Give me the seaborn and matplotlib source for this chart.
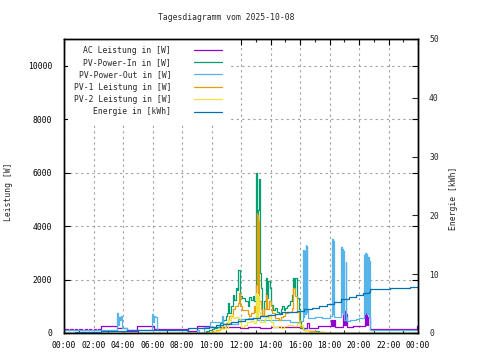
import matplotlib
matplotlib.use("Agg")
import matplotlib.pyplot as plt
import seaborn as sns

# time in hours of the day, values in W (energy in kWh)
t_ac = [0.0, 0.25, 0.4, 0.6, 0.75, 0.9, 1.05, 1.2, 1.4, 1.55, 1.7, 1.85, 2.0, 2.15, 2.3,
        2.53, 3.6, 4.3, 4.95, 6.08, 8.4, 9.0, 9.8, 11.9, 12.5, 13.3, 14.0, 15.5, 16.0,
        16.45, 16.6, 17.2, 18.1, 18.15, 18.2, 18.25, 18.3, 18.4, 18.9, 18.95, 19.0, 19.05,
        19.1, 19.2, 19.6, 20.4, 20.45, 20.5, 20.55, 20.6, 20.75, 23.9, 24.0]
ac = [140, 110, 140, 110, 140, 110, 140, 110, 140, 110, 140, 110, 140, 110, 140,
      260, 175, 90, 260, 140, 60, 260, 230, 190, 210, 200, 230, 210, 190,
      380, 200, 250, 500, 250, 500, 250, 500, 230, 800, 300, 810, 300,
      700, 230, 260, 750, 300, 700, 300, 600, 140, 250, 250]

t_in = [0.0, 9.5, 9.6, 9.8, 10.0, 10.2, 10.4, 10.6, 10.78, 10.95, 11.05, 11.12, 11.2, 11.3,
        11.44, 11.55, 11.65, 11.75, 11.82, 11.9, 11.96, 12.1, 12.3, 12.45, 12.55, 12.65,
        12.78, 12.9, 13.0, 13.05, 13.1, 13.15, 13.2, 13.27, 13.33, 13.44, 13.55, 13.67,
        13.75, 13.85, 13.95, 14.05, 14.2, 14.33, 14.45, 14.55, 14.7, 14.8, 14.9, 15.0,
        15.1, 15.2, 15.35, 15.44, 15.5, 15.6, 15.67, 15.78, 15.9, 16.0, 16.1, 16.3, 16.6,
        17.0, 17.3, 17.6, 24.0]
pv_in = [0, 0, 60, 120, 150, 180, 240, 380, 490, 620, 740, 1120, 760, 1000,
         1440, 1250, 1690, 1600, 2340, 1700, 1400, 1310, 1180, 1000, 1350, 1250,
         1370, 1200, 2750, 5990, 2800, 4600, 5750, 2250, 1690, 620, 1200, 2060,
         1300, 1940, 1700, 1060, 870, 950, 800, 740, 900, 1000, 850, 930,
         1000, 1060, 1200, 1440, 2060, 1700, 2060, 1310, 900, 430, 180, 120, 80,
         60, 30, 0, 0]

t_out = [0.0, 3.6, 3.65, 3.7, 3.8, 3.85, 3.93, 4.3, 5.97, 6.02, 6.07, 6.15, 6.3, 8.35,
         9.05, 9.12, 9.5, 9.9, 10.6, 10.7, 10.8, 10.95, 11.3, 11.8, 12.5, 13.1, 13.3,
         14.0, 14.6, 15.3, 16.0, 16.22, 16.26, 16.3, 16.34, 16.38, 16.42, 16.46, 16.5,
         16.54, 17.0, 17.5, 18.0, 18.17, 18.21, 18.25, 18.3, 18.78, 18.82, 18.86, 18.9,
         18.94, 18.98, 19.1, 19.15, 19.2, 19.4, 19.8, 20.0, 20.36, 20.4, 20.44, 20.48,
         20.52, 20.56, 20.6, 20.65, 20.7, 20.75, 24.0]
pv_out = [110, 740, 300, 600, 480, 640, 180, 110, 710, 400, 650, 600, 110, 0,
          120, 0, 240, 430, 400, 620, 350, 380, 320, 520, 550, 500, 480,
          470, 500, 430, 450, 3100, 600, 3050, 700, 3300, 800, 3250, 900,
          550, 600, 550, 620, 3500, 700, 3450, 600, 3200, 800, 3150, 700,
          3050, 500, 2650, 600, 450, 500, 520, 550, 2900, 700, 3000, 800,
          2950, 700, 2850, 600, 2700, 120, 120]

t_pv1 = [0.0, 9.5, 9.7, 10.0, 10.3, 10.6, 10.78, 10.95, 11.1, 11.2, 11.44, 11.6, 11.78,
         11.85, 11.96, 12.1, 12.3, 12.45, 12.55, 12.7, 12.85, 12.95, 13.03, 13.06, 13.09,
         13.12, 13.15, 13.18, 13.21, 13.25, 13.35, 13.44, 13.55, 13.67, 13.75, 13.9, 14.0,
         14.1, 14.3, 14.55, 14.7, 14.85, 15.0, 15.2, 15.44, 15.55, 15.65, 15.78, 15.9,
         16.0, 16.2, 16.6, 17.0, 17.6, 24.0]
pv1 = [0, 0, 40, 80, 120, 180, 200, 380, 500, 650, 900, 1000, 1120,
       1500, 1000, 870, 870, 700, 620, 750, 1000, 800, 1800, 4500, 2000,
       4400, 1500, 4200, 2500, 1200, 900, 620, 900, 1440, 900, 1180, 1000,
       740, 550, 490, 600, 650, 740, 800, 930, 1690, 1400, 800, 500,
       240, 120, 80, 50, 0, 0]

t_pv2 = [0.0, 9.5, 9.8, 10.2, 10.5, 10.7, 10.9, 11.1, 11.3, 11.45, 11.6, 11.78, 11.9, 12.0,
         12.2, 12.4, 12.7, 12.9, 13.0, 13.05, 13.1, 13.15, 13.2, 13.3, 13.45, 13.6, 13.67,
         13.8, 13.9, 14.0, 14.2, 14.5, 14.7, 14.9, 15.2, 15.55, 15.8, 16.0, 16.2, 16.6,
         17.0, 17.6, 24.0]
pv2 = [0, 0, 30, 60, 150, 250, 200, 500, 680, 550, 600, 550, 400, 240,
       300, 430, 450, 380, 900, 1500, 600, 1370, 800, 430, 430, 550, 680,
       550, 620, 400, 240, 250, 200, 280, 300, 250, 370, 300, 100, 50,
       30, 0, 0]

t_en = [0.0, 0.75, 2.5, 4.3, 6.4, 8.4, 9.8, 10.3, 10.8, 11.3, 11.8, 12.3, 12.8, 13.3, 13.8,
        14.3, 14.8, 15.3, 15.8, 16.3, 16.8, 17.3, 17.8, 18.3, 18.8, 19.3, 19.8, 20.3,
        20.7, 20.75, 22.1, 23.45, 24.0]
energie = [0.0, 0.1, 0.3, 0.45, 0.55, 0.9, 1.1, 1.3, 1.5, 1.8, 2.1, 2.4, 2.6, 2.9, 3.1,
           3.3, 3.5, 3.6, 3.8, 4.0, 4.3, 4.6, 5.0, 5.3, 5.7, 6.1, 6.5, 6.8,
           7.0, 7.5, 7.6, 7.8, 7.8]

labels = ["AC Leistung in [W]", "PV-Power-In in [W]", "PV-Power-Out in [W]",
          "PV-1 Leistung in [W]", "PV-2 Leistung in [W]", "Energie in [kWh]"]
colors = ["#9400d3", "#009e73", "#56b4e9", "#e69f00", "#f0e442", "#0072b2"]
xtick_labels = ["00:00", "02:00", "04:00", "06:00", "08:00", "10:00", "12:00",
                "14:00", "16:00", "18:00", "20:00", "22:00", "00:00"]

sns.set_theme(style="white")
plt.rcParams["font.family"] = ["DejaVu Sans Mono"]
fs = 5.8

fig = plt.figure(figsize=(4.8, 3.6), dpi=100)
ax = fig.add_axes([64 / 480, 27 / 360, 354 / 480, 294 / 360])
ax2 = ax.twinx()

power = [(t_ac, ac), (t_in, pv_in), (t_out, pv_out), (t_pv1, pv1), (t_pv2, pv2)]
for (t, v), c in zip(power, colors[:5]):
    sns.lineplot(x=t, y=v, ax=ax, color=c, linewidth=0.9, drawstyle="steps-post",
                 estimator=None, sort=False)
sns.lineplot(x=t_en, y=energie, ax=ax2, color=colors[5], linewidth=0.9,
             drawstyle="steps-post", estimator=None, sort=False)

ax.set_xlim(0, 24)
ax.set_ylim(0, 11000)
ax2.set_ylim(0, 50)
ax.set_xticks(range(0, 25, 2))
ax.set_xticklabels(xtick_labels)
ax.set_xticks(range(1, 24, 2), minor=True)
ax.set_yticks(range(0, 10001, 2000))
ax2.set_yticks(range(0, 51, 10))

ax.grid(True, which="major", color="#a0a0a0", linestyle=(0, (2, 3)), linewidth=0.8)
ax.tick_params(axis="both", which="major", direction="in", top=True, right=True,
               labelsize=fs, length=4, width=0.8, colors="black")
ax.tick_params(axis="x", which="major", pad=5.5)
ax.tick_params(axis="y", which="major", pad=8.5)
ax.tick_params(axis="x", which="minor", direction="in", top=True, bottom=True,
               length=2.5, width=0.8)
ax2.tick_params(axis="y", direction="in", labelsize=fs, length=4, width=0.8, pad=8)
for a in (ax, ax2):
    for s in a.spines.values():
        s.set_color("black")
        s.set_linewidth(1.0)

ax.set_ylabel("Leistung [W]", fontsize=fs)
ax.yaxis.set_label_coords(-0.144, 0.48)
ax2.set_ylabel("Energie [kWh]", fontsize=fs)
ax2.yaxis.set_label_coords(1.0876, 0.459)

fig.text(226.7 / 480, 1 - 18 / 360, "Tagesdiagramm vom 2025-10-08",
         ha="center", va="center", fontsize=fs)

# key sits on an opaque white box that hides the grid behind it
handles = ax.get_lines()[:5] + ax2.get_lines()[:1]
leg = ax.legend(handles, labels, loc="upper right",
                bbox_to_anchor=((228 - 64) / 354, (333 - 39.5) / 294),
                markerfirst=False, frameon=True, fontsize=fs, handlelength=3.5,
                handletextpad=2.8, labelspacing=0.42, borderpad=0.75,
                borderaxespad=0, fancybox=False, framealpha=1)
leg.get_frame().set_facecolor("white")
leg.get_frame().set_edgecolor("none")
leg.set_zorder(1.8)

fig.savefig("out.png", dpi=100)
